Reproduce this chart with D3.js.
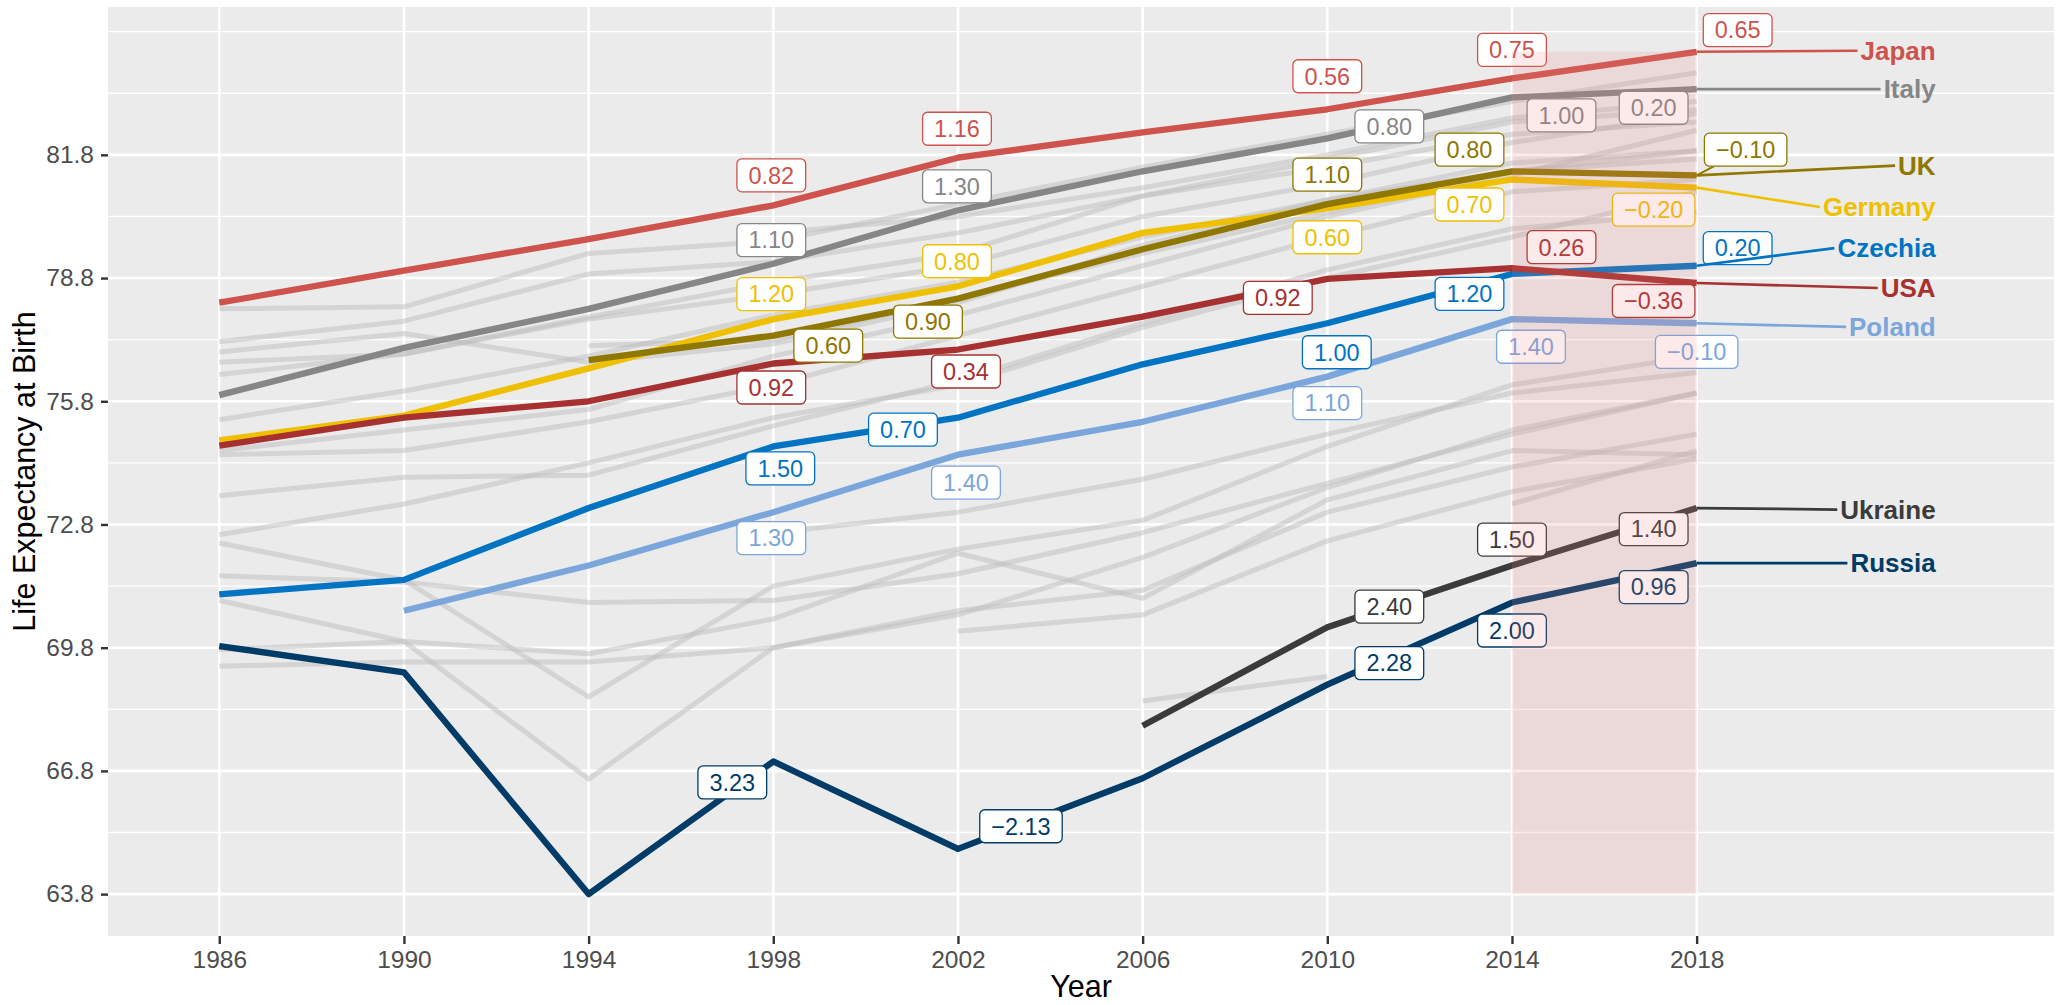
<!DOCTYPE html>
<html>
<head>
<meta charset="utf-8">
<script src="https://cdn.jsdelivr.net/npm/d3@7"></script>
<style>
  body { margin: 0; background: #ffffff; }
  text { font-family: "Liberation Sans", Arial, Helvetica, sans-serif; }
</style>
</head>
<body>
<script>
// ---- data ----
const years = [1986, 1990, 1994, 1998, 2002, 2006, 2010, 2014, 2018];
const labelYears = [1998, 2002, 2010, 2014, 2018];
const yTicks = [63.8, 66.8, 69.8, 72.8, 75.8, 78.8, 81.8];

const countries = ["Germany", "UK", "Italy", "Japan", "Poland", "Czechia", "USA", "Ukraine", "Russia"];

const japanLE   = [78.20, 78.98, 79.75, 80.57, 81.73, 82.35, 82.91, 83.66, 84.31];
const italyLE   = [75.95, 77.10, 78.05, 79.15, 80.45, 81.40, 82.20, 83.20, 83.40];
const ukLE      = [null, null, 76.80, 77.40, 78.30, 79.50, 80.60, 81.40, 81.30];
const germanyLE = [74.85, 75.45, 76.60, 77.80, 78.60, 79.90, 80.50, 81.20, 81.00];
const czechiaLE = [71.10, 71.45, 73.20, 74.70, 75.40, 76.70, 77.70, 78.90, 79.10];
const usaLE     = [74.72, 75.40, 75.80, 76.72, 77.06, 77.86, 78.78, 79.04, 78.68];
const polandLE  = [null, 70.70, 71.80, 73.10, 74.50, 75.30, 76.40, 77.80, 77.70];
const ukraineLE = [null, null, null, null, null, 67.90, 70.30, 71.80, 73.20];
const russiaLE  = [69.84, 69.20, 63.80, 67.03, 64.90, 66.62, 68.90, 70.90, 71.86];

// other countries, drawn in grey
const otherLE = [
  [78.05, 78.10, 79.40, 79.70, 80.60, 81.50, 82.30, 83.10, 83.80],
  [77.25, 77.75, 78.90, 79.20, 79.90, 80.80, 81.50, 82.30, 82.60],
  [77.00, 77.45, 76.75, 77.20, 78.20, 79.60, 80.70, 81.40, 81.70],
  [76.75, 76.95, 77.80, 78.40, 79.10, 80.30, 81.10, 82.10, 82.80],
  [76.45, 76.95, 77.85, 78.70, 79.40, 80.80, 81.70, 82.60, 82.90],
  [75.35, 76.05, 76.90, 77.90, 78.70, 79.80, 80.70, 81.60, 81.90],
  [74.60, 75.10, 75.60, 76.90, 77.90, 79.10, 80.30, 81.30, 82.40],
  [74.50, 74.60, 75.30, 76.20, 77.40, 78.60, 79.80, 80.90, 81.20],
  [null, null, 77.15, 77.30, 78.30, 79.40, 80.40, 81.40, 81.90],
  [null, null, null, 79.90, 80.30, 81.00, 81.80, 82.70, 83.10],
  [73.50, 73.95, 74.00, 75.20, 76.30, 77.70, 79.00, 80.00, 80.40],
  [72.55, 73.30, 74.30, 75.40, 76.20, 77.60, 78.80, 79.80, 80.90],
  [72.35, 71.45, 68.60, 71.30, 72.20, 72.90, 74.70, 76.20, 76.90],
  [71.55, 71.40, 70.90, 70.95, 71.60, 72.60, 73.80, 75.00, 76.00],
  [70.95, 69.95, 66.60, 69.80, 70.70, 71.20, 73.10, 74.20, 75.00],
  [69.75, 69.95, 69.65, 70.50, 72.10, 71.00, 73.40, 74.60, 74.50],
  [69.35, 69.45, 69.45, 69.80, 70.60, 72.00, 73.70, 75.10, 76.00],
  [null, null, null, 72.60, 73.10, 73.90, 75.00, 76.00, 76.50],
  [null, null, null, null, 70.20, 70.60, 72.40, 73.60, 74.40],
  [null, null, null, null, null, 68.50, 69.10, null, null],
  [null, null, null, null, null, null, null, 73.30, 74.60]
];

const valuesOf = {
  Japan: japanLE, Italy: italyLE, UK: ukLE, Germany: germanyLE, Czechia: czechiaLE,
  USA: usaLE, Poland: polandLE, Ukraine: ukraineLE, Russia: russiaLE
};

// ---- styles and label layout ----
const colors = {
  Japan: "#CD534C", Italy: "#868686", UK: "#8F7700", Germany: "#EFC000", Czechia: "#0073C2",
  USA: "#A73030", Poland: "#7AA6DC", Ukraine: "#3B3B3B", Russia: "#003C67"
};

// pixel nudges of the change labels (one per labelled year), third item = draw segment
const labelNudge = {
  Japan:   [[-2, -30], [-1, -29], [0, -33], [0, -28.6], [41, -21.6]],
  Italy:   [[-2, -23.5], [-1, -24], [62, -12], [49.5, 18], [-43, 18.6]],
  Germany: [[-2, -25], [-1, -25], [0, 29], [-42.5, 25], [-43, 22]],
  UK:      [[55, 10], [-30, 23], [0, -29.5], [-42.5, -21.6], [49, -25.7, 1]],
  USA:     [[-2, 24], [8, 22], [-49.5, 19], [49.5, -21], [-43, 18]],
  Czechia: [[7, 22], [-55, 12], [9.5, 29], [-42.5, 20], [41, -17.6]],
  Poland:  [[-2, 26], [8, 28], [0, 26.5], [19, 27.6], [0, 28.7]],
  Ukraine: [[62, -20.5], [0, -26], [-43, 21]],
  Russia:  [[-41, 21], [63, -22.7], [62, -21.5], [0, 28], [-43, 24]]
};
const nameNudge = { Japan: -1, Italy: 0, UK: -9.8, Germany: 19.3, Czechia: -17.7, USA: 5, Poland: 3.7, Ukraine: 1.5, Russia: 0 };

const W = 2061, H = 1005;
const panel = { left: 108, right: 2054, top: 7, bottom: 936 };

const x = d3.scaleLinear().domain([1983.59, 2025.74]).range([panel.left, panel.right]);
const y = d3.scaleLinear().domain([62.78, 85.40]).range([panel.bottom, panel.top]);

const svg = d3.select("body").append("svg")
  .attr("width", W)
  .attr("height", H)
  .style("display", "block");

svg.append("rect")
  .attr("x", panel.left).attr("y", panel.top)
  .attr("width", panel.right - panel.left).attr("height", panel.bottom - panel.top)
  .attr("fill", "#EBEBEB");

// grid
const minorY = d3.range(62.3, 85.5, 1.5).filter(v => v > y.domain()[0] && v < y.domain()[1]);
svg.append("g").selectAll("line").data(minorY).join("line")
  .attr("x1", panel.left).attr("x2", panel.right)
  .attr("y1", d => y(d)).attr("y2", d => y(d))
  .attr("stroke", "#ffffff").attr("stroke-width", 1.3);
svg.append("g").selectAll("line").data(yTicks).join("line")
  .attr("x1", panel.left).attr("x2", panel.right)
  .attr("y1", d => y(d)).attr("y2", d => y(d))
  .attr("stroke", "#ffffff").attr("stroke-width", 2.6);
svg.append("g").selectAll("line").data(years).join("line")
  .attr("x1", d => x(d)).attr("x2", d => x(d))
  .attr("y1", panel.top).attr("y2", panel.bottom)
  .attr("stroke", "#ffffff").attr("stroke-width", 2.6);

// axes
const yAxis = svg.append("g")
  .attr("transform", "translate(" + panel.left + ",0)")
  .call(d3.axisLeft(y).tickValues(yTicks).tickSize(7).tickPadding(7).tickFormat(d3.format(".1f")));
const xAxis = svg.append("g")
  .attr("transform", "translate(0," + panel.bottom + ")")
  .call(d3.axisBottom(x).tickValues(years).tickSize(8).tickPadding(7).tickFormat(d3.format("d")));
[yAxis, xAxis].forEach(ax => {
  ax.select(".domain").remove();
  ax.selectAll(".tick line").attr("stroke", "#333333").attr("stroke-width", 2.4);
  ax.selectAll(".tick text")
    .attr("fill", "#4D4D4D")
    .style("font-size", "24.5px")
    .style("font-family", "'Liberation Sans', Arial, sans-serif");
});

svg.append("text")
  .attr("x", (panel.left + panel.right) / 2).attr("y", 997)
  .attr("text-anchor", "middle")
  .style("font-size", "30.5px")
  .text("Year");
svg.append("text")
  .attr("transform", "translate(35," + (panel.top + panel.bottom) / 2 + ") rotate(-90)")
  .attr("text-anchor", "middle")
  .style("font-size", "30.5px")
  .text("Life Expectancy at Birth");

// lines
const toPoints = vals => years.map((yr, i) => ({ year: yr, v: vals[i] }));
const line = d3.line()
  .defined(d => d.v != null)
  .x(d => x(d.year))
  .y(d => y(d.v));

svg.append("g").selectAll("path").data(otherLE).join("path")
  .attr("d", d => line(toPoints(d)))
  .attr("fill", "none")
  .attr("stroke", "#BEBEBE")
  .attr("stroke-opacity", 0.5)
  .attr("stroke-width", 5)
  .attr("stroke-linejoin", "round");

svg.append("g").selectAll("path").data(countries).join("path")
  .attr("d", c => line(toPoints(valuesOf[c])))
  .attr("fill", "none")
  .attr("stroke", c => colors[c])
  .attr("stroke-width", 6.3)
  .attr("stroke-linejoin", "round");

// change labels
const fmt = d3.format(".2f");
const labelData = [];
countries.forEach(c => {
  const vals = valuesOf[c];
  let k = 0;
  labelYears.forEach(yr => {
    const i = years.indexOf(yr);
    if (vals[i] == null || vals[i - 1] == null) return;
    const n = labelNudge[c][k++];
    labelData.push({ country: c, year: yr, v: vals[i], change: vals[i] - vals[i - 1], dx: n[0], dy: n[1], seg: n[2] === 1 });
  });
});

const segGroup = svg.append("g");
const labels = svg.append("g").selectAll("g").data(labelData).join("g")
  .attr("transform", d => "translate(" + (x(d.year) + d.dx) + "," + (y(d.v) + d.dy) + ")");
labels.append("text")
  .attr("text-anchor", "middle")
  .attr("y", 8.3)
  .attr("fill", d => colors[d.country])
  .style("font-size", "23.5px")
  .text(d => fmt(Math.round(d.change * 100) / 100));
labels.each(function (d) {
  const g = d3.select(this);
  const w = g.select("text").node().getComputedTextLength() + 23;
  d.w = w; d.h = 33;
  g.insert("rect", "text")
    .attr("x", -w / 2).attr("y", -16.5)
    .attr("width", w).attr("height", 33)
    .attr("rx", 5).attr("ry", 5)
    .attr("fill", "#ffffff")
    .attr("stroke", colors[d.country])
    .attr("stroke-width", 1.3);
});

// segment from point to label box edge
function segEnd(d) {
  const px = x(d.year), py = y(d.v);
  const cx = px + d.dx, cy = py + d.dy;
  const t = Math.min(Math.abs((d.w / 2) / (cx - px)), Math.abs((d.h / 2) / (cy - py)));
  return [cx - (cx - px) * t, cy - (cy - py) * t];
}
segGroup.selectAll("line").data(labelData.filter(d => d.seg)).join("line")
  .attr("x1", d => x(d.year)).attr("y1", d => y(d.v))
  .attr("x2", d => segEnd(d)[0])
  .attr("y2", d => segEnd(d)[1])
  .attr("stroke", d => colors[d.country])
  .attr("stroke-width", 2);

// highlighted period 2014-2018
const allVals = countries.flatMap(c => valuesOf[c]).filter(v => v != null);
svg.append("rect")
  .attr("x", x(2014)).attr("width", x(2018) - x(2014))
  .attr("y", y(d3.max(allVals))).attr("height", y(d3.min(allVals)) - y(d3.max(allVals)))
  .attr("fill", "#F08080")
  .attr("fill-opacity", 0.17);

// country names on the right
const last = years.length - 1;
const nameX = x(2018) + 239;
const names = svg.append("g").selectAll("g").data(countries).join("g");
names.append("text")
  .attr("x", nameX)
  .attr("y", c => y(valuesOf[c][last]) + nameNudge[c] + 9.2)
  .attr("text-anchor", "end")
  .attr("fill", c => colors[c])
  .style("font-size", "26px")
  .style("font-weight", "bold")
  .text(c => c);
names.insert("line", "text")
  .attr("x1", x(2018))
  .attr("y1", c => y(valuesOf[c][last]))
  .attr("x2", function (c) {
    const t = d3.select(this.parentNode).select("text").node();
    return nameX - t.getComputedTextLength() - 3;
  })
  .attr("y2", c => y(valuesOf[c][last]) + nameNudge[c])
  .attr("stroke", c => colors[c])
  .attr("stroke-width", 2.7);
</script>
</body>
</html>
